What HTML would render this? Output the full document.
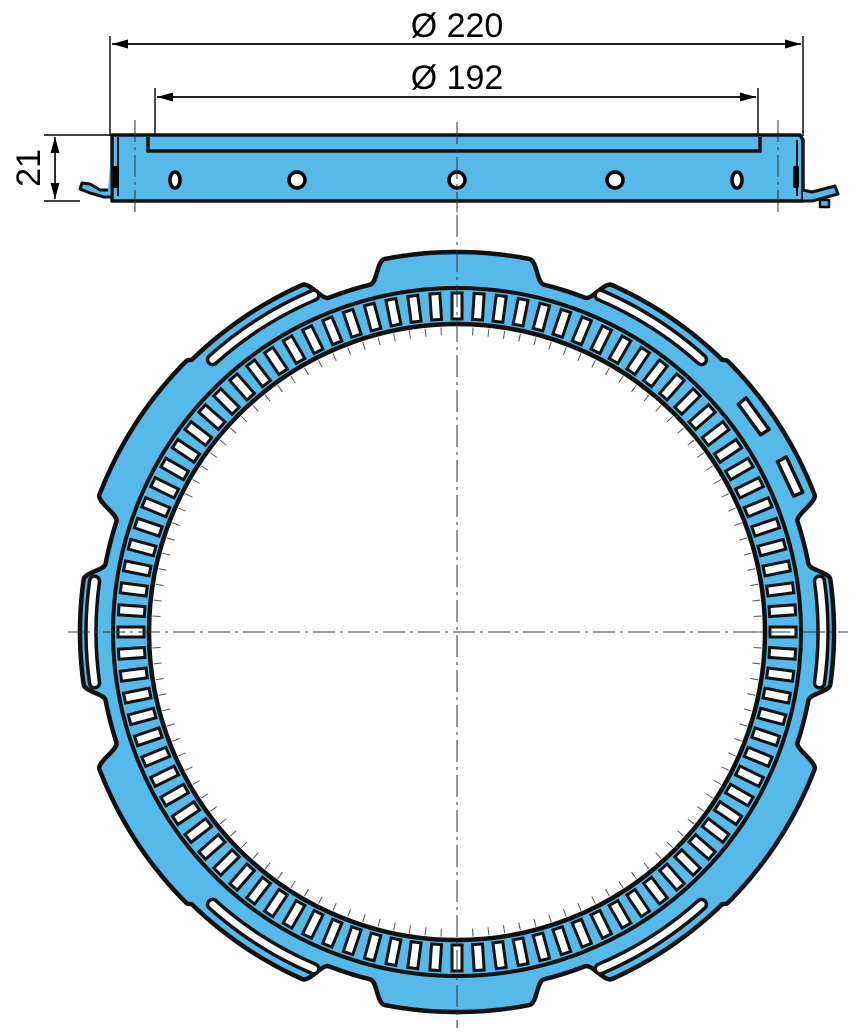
<!DOCTYPE html>
<html><head><meta charset="utf-8"><style>
html,body{margin:0;padding:0;background:#fff;}
svg{display:block;}
text{font-family:"Liberation Sans",Arial,sans-serif;}
</style></head><body>
<svg id="s" width="858" height="1033" viewBox="0 0 858 1033" xmlns="http://www.w3.org/2000/svg">
<defs>
<marker id="ar" markerWidth="16" markerHeight="9" refX="16" refY="4.5" orient="auto" markerUnits="userSpaceOnUse">
<path d="M0,0 L16,4.5 L0,9 Z" fill="#000"/></marker>
</defs>
<g stroke="#000" stroke-width="1.4" fill="none">
<line x1="110" y1="36" x2="110" y2="136"/>
<line x1="803" y1="36" x2="803" y2="136"/>
<line x1="155" y1="88" x2="155" y2="150"/>
<line x1="758" y1="88" x2="758" y2="150"/>
<line x1="112" y1="44" x2="801" y2="44" marker-end="url(#ar)"/>
<line x1="801" y1="44" x2="112" y2="44" marker-end="url(#ar)"/>
<line x1="157" y1="97" x2="756" y2="97" marker-end="url(#ar)"/>
<line x1="756" y1="97" x2="157" y2="97" marker-end="url(#ar)"/>
<line x1="44" y1="135" x2="112" y2="135"/>
<line x1="44" y1="201" x2="80" y2="201"/>
<line x1="55" y1="137" x2="55" y2="199" marker-end="url(#ar)"/>
<line x1="55" y1="199" x2="55" y2="137" marker-end="url(#ar)"/>
</g>
<text x="457" y="37" font-size="34" text-anchor="middle">Ø 220</text>
<text x="457" y="89" font-size="34" text-anchor="middle">Ø 192</text>
<text transform="translate(40,168) rotate(-90)" font-size="34" text-anchor="middle">21</text>

<g stroke="#111" stroke-width="3.5" stroke-linejoin="round">
<path d="M112,135 L800,135 L803,140 L803,201 L112,201 Z" fill="#55b9ea"/>
<path d="M148,137 L148,151 L760,151 L760,137" fill="none"/>
<path d="M112,140 L112,197 L104,197 L90,193 L80,189 L82,183 L90,184 L100,190 L108,190" fill="#55b9ea" stroke-width="3"/>
<path d="M803,190 L812,192 L835,186 L838,194 L812,201 L803,201" fill="#55b9ea" stroke-width="3"/>
<rect x="820" y="200" width="9" height="7" fill="#55b9ea" stroke-width="2.5"/>
<line x1="118" y1="137" x2="118" y2="196" stroke-width="2"/>
<line x1="797" y1="140" x2="797" y2="196" stroke-width="2"/>
</g>
<g fill="#fff" stroke="#000" stroke-width="3.5">
<ellipse cx="175" cy="180" rx="5" ry="8"/>
<ellipse cx="297" cy="180" rx="8" ry="8"/>
<ellipse cx="457" cy="180" rx="8" ry="8"/>
<ellipse cx="615" cy="180" rx="8" ry="8"/>
<ellipse cx="737" cy="180" rx="5" ry="8"/>
</g>
<g fill="#000"><rect x="113" y="166" width="6" height="22" rx="2"/><rect x="793" y="166" width="6" height="22" rx="2"/></g>
<g id="ring"></g>
<g stroke="#333" stroke-width="1" stroke-dasharray="22,5,3,5" fill="none">
<line x1="457" y1="122" x2="457" y2="212"/>
<line x1="457" y1="215" x2="457" y2="1028"/>
<line x1="68" y1="632" x2="848" y2="632"/>
<line x1="135" y1="120" x2="135" y2="212"/>
<line x1="778" y1="120" x2="778" y2="212"/>
</g>
</svg>
<script>
(function(){
var NS="http://www.w3.org/2000/svg",g=document.getElementById("ring");
var cx=457,cy=632;
function el(t,a){var e=document.createElementNS(NS,t);for(var k in a)e.setAttribute(k,a[k]);g.appendChild(e);return e;}
var lobes=[[90,11,380],[180,8,377],[0,8,377],[270,11,380],
[180-33,12,383],[180+33,12,383],[33,12,383],[-33,12,383],
[90+37,13,380],[90-37,13,380],[270+37,13,380],[270-37,13,380]];
function R(p){var r=358;for(var i=0;i<lobes.length;i++){var L=lobes[i];var d=((p-L[0])%360+540)%360-180;d=Math.abs(d);
 var v; if(d<L[1])v=1; else if(d<L[1]+3)v=0.5+0.5*Math.cos(Math.PI*(d-L[1])/3); else v=0;
 r=Math.max(r,358+(L[2]-358)*v);}return r;}
var d="";for(var i=0;i<=1440;i++){var p=i/4;var a=p*Math.PI/180;var r=R(p);
 d+=(i?"L":"M")+(cx+r*Math.cos(a)).toFixed(1)+","+(cy-r*Math.sin(a)).toFixed(1);}
d+="Z M"+(cx+308)+","+cy+" A308,308 0 1,0 "+(cx-308)+","+cy+" A308,308 0 1,0 "+(cx+308)+","+cy+"Z";
el("path",{d:d,fill:"#55b9ea",stroke:"#111","stroke-width":4.5,"fill-rule":"evenodd","stroke-linejoin":"round"});
el("circle",{cx:cx,cy:cy,r:344,fill:"none",stroke:"#111","stroke-width":4});
var N=96;for(var k=0;k<N;k++){var ang=k*360/N;
 el("rect",{x:-5,y:-339,width:10,height:26,fill:"#fff",stroke:"#111","stroke-width":3,
  transform:"translate("+cx+","+cy+") rotate("+ang+")"});}
for(var k=0;k<120;k++){var ang=k*3*Math.PI/180;
 el("line",{x1:cx+305*Math.cos(ang),y1:cy+305*Math.sin(ang),x2:cx+297*Math.cos(ang),y2:cy+297*Math.sin(ang),stroke:"#555","stroke-width":1});}
function slot(p0,p1,r,w){var a0=p0*Math.PI/180,a1=p1*Math.PI/180;
 var ro=r+w/2,ri=r-w/2;
 var P=function(rr,a){return (cx+rr*Math.cos(a)).toFixed(1)+","+(cy-rr*Math.sin(a)).toFixed(1);};
 var dd="M"+P(ro,a0)+" A"+ro+","+ro+" 0 0,0 "+P(ro,a1)+" A"+(w/2)+","+(w/2)+" 0 0,0 "+P(ri,a1)+" A"+ri+","+ri+" 0 0,1 "+P(ri,a0)+" A"+(w/2)+","+(w/2)+" 0 0,0 "+P(ro,a0)+"Z";
 el("path",{d:dd,fill:"#fff",stroke:"#111","stroke-width":3.5});}
slot(172,188,366,10);slot(-8,8,366,10);
slot(113,132,366,10);slot(48,67,366,10);slot(228,247,366,10);slot(293,312,366,10);
function rslot(p0,p1,r,w){var a0=p0*Math.PI/180,a1=p1*Math.PI/180;var ro=r+w/2,ri=r-w/2;
 var P=function(rr,a){return (cx+rr*Math.cos(a)).toFixed(1)+","+(cy-rr*Math.sin(a)).toFixed(1);};
 el("path",{d:"M"+P(ro,a0)+"L"+P(ro,a1)+"L"+P(ri,a1)+"L"+P(ri,a0)+"Z",fill:"#fff",stroke:"#111","stroke-width":3.5,"stroke-linejoin":"round"});}
rslot(33,39,367,10);rslot(22,28,368,10);
})();
</script>
</body></html>
